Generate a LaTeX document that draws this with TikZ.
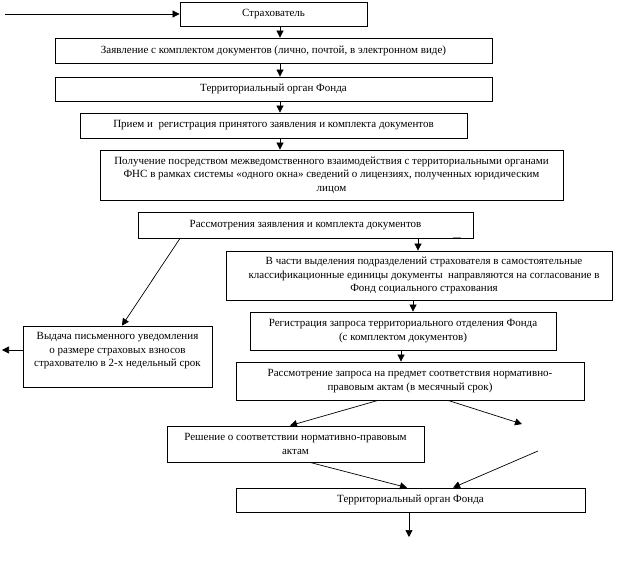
\documentclass[tikz,border=0pt]{standalone}
\usepackage{fontspec}
\setmainfont{Liberation Serif}
\usetikzlibrary{arrows.meta}
\begin{document}
\begin{tikzpicture}[x=1pt,y=-1pt,
  box/.style={draw, line width=0.8pt, align=center, inner sep=0pt, font=\fontsize{11}{13.5}\selectfont},
  arr/.style={line width=0.7pt, -{Triangle[length=7pt,width=7pt]}},
  ln/.style={line width=0.7pt}]
\useasboundingbox (0,0) rectangle (620,564);
\fill[white] (0,0) rectangle (620,564);
% columns
\coordinate (c280) at (280,0);
\coordinate (c418) at (418,0);
\coordinate (c413) at (413,0);
\coordinate (c401) at (401,0);
\coordinate (c409) at (409,0);
\coordinate (c180) at (180,0);
\coordinate (c378) at (378,0);
\coordinate (c290) at (290,0);
\coordinate (c448) at (448,0);
\coordinate (c453) at (453,0);
\coordinate (c310) at (310,0);
\coordinate (c407) at (407,0);
% boxes
\node[box, minimum width=187pt, minimum height=24pt] (n1) at (273.5,14) {Страхователь};
\node[box, minimum width=437pt, minimum height=25pt] (n2) at (273.5,50.5) {Заявление с комплектом документов (лично, почтой, в электронном виде)};
\node[box, minimum width=437pt, minimum height=24pt] (n3) at (273.5,89) {Территориальный орган Фонда};
\node[box, minimum width=387pt, minimum height=25pt] (n4) at (273.5,125.5) {Прием и\ \ регистрация принятого заявления и комплекта документов};
\node[box, minimum width=463pt, minimum height=50pt] (n5) at (331.5,175) {Получение посредством межведомственного взаимодействия с территориальными органами\\ФНС в рамках системы «одного окна» сведений о лицензиях, полученных юридическим\\лицом};
\node[box, minimum width=335pt, minimum height=26pt] (n6) at (305.5,225) {Рассмотрения заявления и комплекта документов};
\node[box, minimum width=386pt, minimum height=49pt] (n7) at (419,275.5) {\hspace*{10pt}В части выделения подразделений страхователя в самостоятельные\\\hspace*{10pt}классификационные единицы документы\ \ направляются на согласование в\\\hspace*{10pt}Фонд социального страхования};
\node[box, minimum width=306pt, minimum height=38pt] (n8) at (403,331) {Регистрация запроса территориального отделения Фонда\\(с комплектом документов)};
\node[box, minimum width=348pt, minimum height=38pt] (n9) at (410,381) {Рассмотрение запроса на предмет соответствия нормативно-\\правовым актам (в месячный срок)};
\node[box, minimum width=189pt, minimum height=61pt] (n10) at (117.5,356.5) {Выдача письменного уведомления\\о размере страховых взносов\\страхователю в 2-х недельный срок\\\mbox{}};
\node[box, minimum width=257pt, minimum height=36pt] (n11) at (295.5,444) {Решение о соответствии нормативно-правовым\\актам};
\node[box, minimum width=349pt, minimum height=24pt] (n12) at (410.5,500) {Территориальный орган Фонда};
% free ends
\coordinate (s0) at (5,14);
\coordinate (e10) at (2,350);
\coordinate (f1) at (522,424);
\coordinate (f2) at (538,451);
\coordinate (f3) at (409,537);
% connectors
\draw[arr] (s0) -- (n1.west |- s0);
\draw[arr] (n1.south -| c280) -- (n2.north -| c280);
\draw[arr] (n2.south -| c280) -- (n3.north -| c280);
\draw[arr] (n3.south -| c280) -- (n4.north -| c280);
\draw[arr] (n4.south -| c280) -- (n5.north -| c280);
\draw[arr] (n6.south -| c418) -- (n7.north -| c418);
\draw[arr] (n7.south -| c413) -- (n8.north -| c413);
\draw[arr] (n8.south -| c401) -- (n9.north -| c401);
\draw[arr] (n6.south -| c180) -- ([xshift=4.5pt]n10.north);
\draw[arr] (n10.west |- e10) -- (e10);
\draw[arr] (n9.south -| c378) -- (n11.north -| c290);
\draw[arr] (n9.south -| c448) -- (f1);
\draw[arr] (f2) -- (n12.north -| c453);
\draw[arr] (n11.south -| c310) -- (n12.north -| c407);
\draw[arr] (n12.south -| c409) -- (f3);
\draw[line width=0.6pt, black!40] (453,237.5) -- (461,237.5);
\end{tikzpicture}
\end{document}
